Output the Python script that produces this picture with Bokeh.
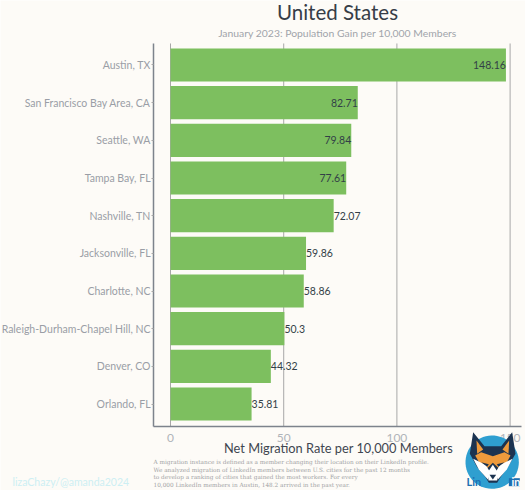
import numpy as np
from bokeh.core.properties import value
from bokeh.plotting import figure
from bokeh.models import ColumnDataSource, LabelSet, Label, Range1d, FixedTicker
from bokeh.embed import file_html
from bokeh.resources import INLINE

cities = ["Austin, TX", "San Francisco Bay Area, CA", "Seattle, WA", "Tampa Bay, FL", "Nashville, TN",
          "Jacksonville, FL", "Charlotte, NC", "Raleigh-Durham-Chapel Hill, NC", "Denver, CO", "Orlando, FL"]
rates = [148.16, 82.71, 79.84, 77.61, 72.07, 59.86, 58.86, 50.3, 44.32, 35.81]
rate_text = ["148.16", "82.71", "79.84", "77.61", "72.07", "59.86", "58.86", "50.3", "44.32", "35.81"]
x_ticks = [0, 50, 100, 150]
footnote = ["A migration instance is defined as a member changing their location on their LinkedIn profile.",
            "We analyzed migration of LinkedIn members between U.S. cities for the past 12 months",
            "to develop a ranking of cities that gained the most workers. For every",
            "10,000 LinkedIn members in Austin, 148.2 arrived in the past year."]

BG = "#fdfbf7"
GRAY = "#9a9ea6"
W, H = 525, 490
rank = list(range(len(cities)))

# the frame fills the page, so axes sit inside it and texts around the plot are not clipped
X_LOW, X_HIGH = -7.5, 155.0       # ends of the horizontal axis line
Y_TOP, Y_BOTTOM = -0.571, 9.597   # ends of the vertical axis line
p = figure(width=W, height=H, output_backend="svg", toolbar_location=None,
           x_range=Range1d(-75.09, 156.8), y_range=Range1d(11.295, -1.712),
           background_fill_color=BG, border_fill_color=BG, outline_line_color=None,
           min_border_left=0, min_border_right=0, min_border_bottom=0, min_border_top=0)
p.extra_x_ranges["px"] = Range1d(0, W)
p.extra_y_ranges["px"] = Range1d(H, 0)

p.xgrid.visible = False
p.ygrid.visible = False
p.segment(x0=x_ticks, x1=x_ticks, y0=[Y_TOP] * 4, y1=[Y_BOTTOM] * 4, line_color="#a8a8a8", line_width=1)

src = ColumnDataSource(dict(rank=rank, rate=rates, text=rate_text,
                            align=["right" if r > 75 else "left" for r in rates]))
p.hbar(y="rank", right="rate", left=0, height=0.88, source=src, fill_color="#7dbf5f", line_color=None)
p.add_layout(LabelSet(x="rate", y="rank", text="text", text_align="align", text_baseline="middle",
                      text_font=value("Lato"), text_font_size="10.5px", text_color="#333f47", source=src))

ax, ay = p.xaxis[0], p.yaxis[0]
ax.fixed_location = Y_BOTTOM
ax.bounds = (X_LOW, X_HIGH)
ax.ticker = FixedTicker(ticks=x_ticks)
ax.major_tick_line_color = None
ax.minor_tick_line_color = None
ax.major_label_standoff = 1
ax.axis_line_color = "#7d838c"
ax.axis_line_width = 1.5
ax.major_label_text_font = "Lato"
ax.major_label_text_font_size = "12px"
ax.major_label_text_color = "#b0b4b9"

ay.fixed_location = X_LOW
ay.bounds = (Y_TOP, Y_BOTTOM)
ay.ticker = FixedTicker(ticks=rank)
ay.major_label_overrides = dict(zip(rank, cities))
ay.minor_tick_line_color = None
ay.axis_line_color = "#7d838c"
ay.axis_line_width = 1.5
ay.major_tick_line_color = "#a8a8a8"
ay.major_tick_out = 2
ay.major_tick_in = 0
ay.major_label_standoff = 1
ay.major_label_text_font = "Lato"
ay.major_label_text_font_size = "10.5px"
ay.major_label_text_color = GRAY

def text(x, y, s, font="Lato", size="10px", color=GRAY, align="left", style="normal", level="annotation"):
    p.add_layout(Label(x=x, y=y, x_range_name="px", y_range_name="px", text=s, text_font=font,
                       text_font_size=size, text_color=color, text_align=align, text_baseline="middle",
                       text_font_style=style, level=level))

text(337, 11, "United States", size="20.5px", color="#363d47", align="center")
text(337, 32, "January 2023: Population Gain per 10,000 Members", size="10.4px", color="#a0a4aa", align="center")
text(338, 447, "Net Migration Rate per 10,000 Members", size="12.8px", color="#3f4650", align="center")
for line, yy in zip(footnote, [461.5, 469, 476.5, 484]):
    text(153, yy, line, font="DejaVu Serif", size="5.75px", color="#a2a3a5")
text(12, 481, "lizaChazy/@amanda2024", size="10.5px", color="#cdeff3")

# logo, in coordinates of a 65-px-square crop at three times its size
def poly(pts, color):
    pts = np.asarray(pts, float)
    p.patch(x=460 + pts[:, 0] / 3, y=425 + pts[:, 1] / 3, x_range_name="px", y_range_name="px",
            fill_color=color, line_color=None, level="overlay")

t = np.linspace(0, 2 * np.pi, 60)
poly(np.c_[95 + 80 * np.cos(t), 110 + 80 * np.sin(t)], "#2f9fd0")
poly([(38,20),(72,62),(122,62),(155,20),(165,85),(145,120),(120,155),(110,172),(85,172),(75,155),(50,125),(28,85)], "#1c3350")
poly([(62,80),(97,92),(132,80),(150,90),(135,118),(115,128),(97,112),(80,128),(60,118),(44,90)], "#ee9a3c")
poly([(48,45),(68,72),(50,85)], "#ee9a3c")
poly([(146,45),(126,72),(144,85)], "#ee9a3c")
poly([(38,100),(75,118),(90,142),(82,162),(55,132)], "#ffffff")
poly([(156,100),(119,118),(104,142),(112,162),(139,132)], "#ffffff")
poly([(97,118),(112,140),(110,165),(84,165),(82,140)], "#ffffff")
poly([(62,110),(85,116),(80,124)], "#1c3350")
poly([(132,110),(109,116),(114,124)], "#1c3350")
poly([(87,148),(107,148),(97,162)], "#1c3350")
poly([(145,158),(178,158),(178,182),(145,182)], "#1f6fb0")
text(466, 481, "Lin", size="11px", color="#1f6fb0", style="bold", level="overlay")
text(511, 481, "in", size="11px", color="#ffffff", style="bold", level="overlay")

open("out.html", "w").write(file_html(p, INLINE))
